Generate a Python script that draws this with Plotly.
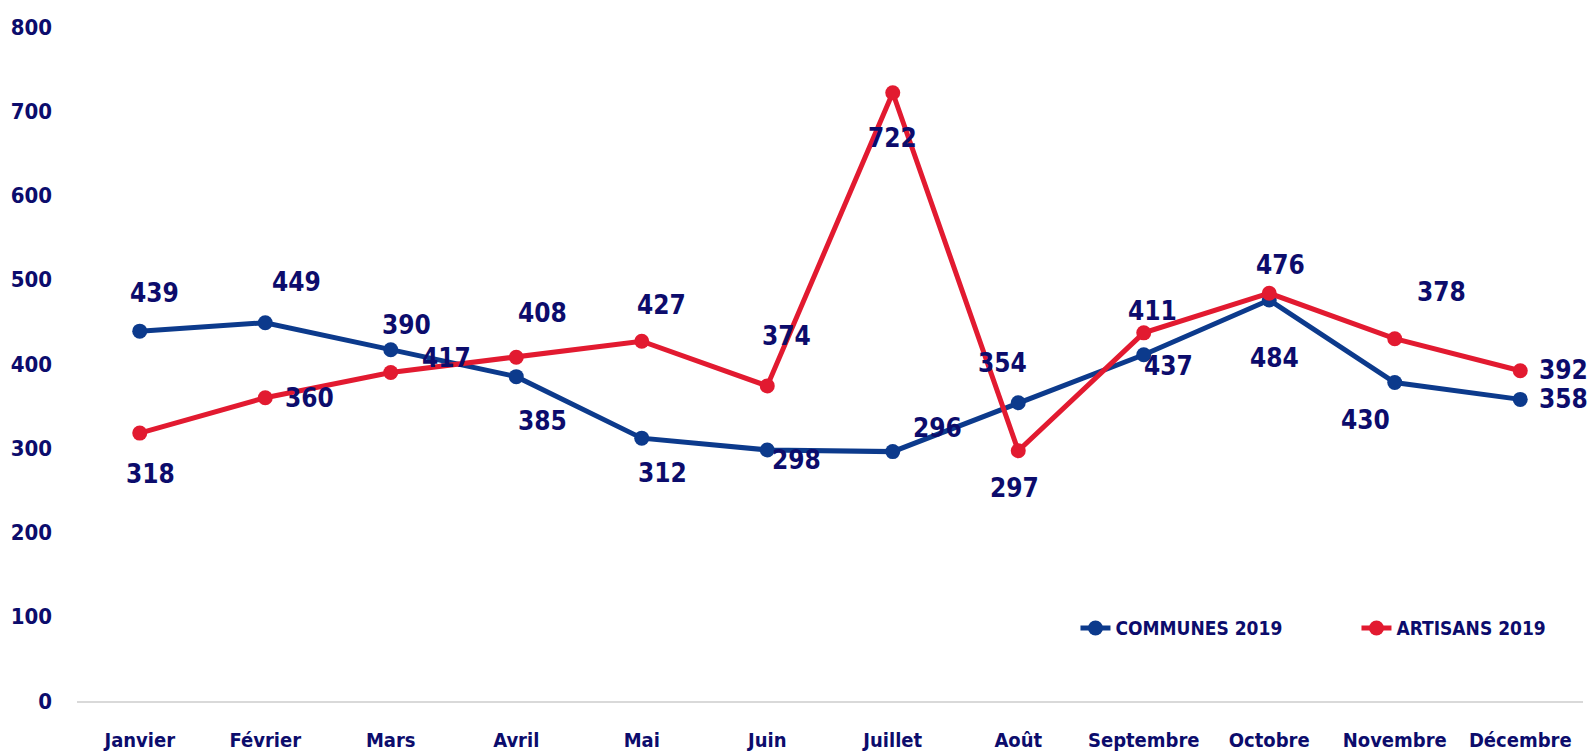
import plotly.graph_objects as go

# Monthly counts, 2019
months = ["Janvier", "Février", "Mars", "Avril", "Mai", "Juin", "Juillet",
          "Août", "Septembre", "Octobre", "Novembre", "Décembre"]
communes_2019 = [439, 449, 417, 385, 312, 298, 296, 354, 411, 476, 378, 358]
artisans_2019 = [318, 360, 390, 408, 427, 374, 722, 297, 437, 484, 430, 392]

# Pixel offsets of each value label relative to its point (dx right, dy down)
communes_label_dx = [15, 31, 56, 26, 21, 29, 45, -16, 9, 11, 47, 43]
communes_label_dy = [-38, -41, 8, 44, 35, 10, -24, -40, -44, -35, -91, 0]
artisans_label_dx = [11, 44, 16, 26, 20, 19, 0, -4, 25, 5, -29, 43]
artisans_label_dy = [41, 0, -47, -44, -36, -50, 45, 37, 33, 65, 81, -1]

BLUE = "#0c3a8c"
RED = "#e21a30"
NAVY = "#0c0c6c"
FONT = "DejaVu Sans Condensed, Liberation Sans Narrow, sans-serif"

fig = go.Figure()
fig.add_trace(go.Scatter(
    x=months, y=communes_2019, name="COMMUNES 2019", mode="lines+markers",
    line=dict(color=BLUE, width=5), marker=dict(color=BLUE, size=15),
))
fig.add_trace(go.Scatter(
    x=months, y=artisans_2019, name="ARTISANS 2019", mode="lines+markers",
    line=dict(color=RED, width=5), marker=dict(color=RED, size=15),
))

annotations = []
for vals, dxs, dys in ((communes_2019, communes_label_dx, communes_label_dy),
                       (artisans_2019, artisans_label_dx, artisans_label_dy)):
    for m, v, dx, dy in zip(months, vals, dxs, dys):
        annotations.append(dict(
            x=m, y=v, xref="x", yref="y", text=str(v), showarrow=False,
            xanchor="center", yanchor="middle", xshift=dx, yshift=-dy,
            font=dict(family=FONT, size=26, color=NAVY, weight="bold"),
        ))

fig.update_layout(
    width=1589, height=755,
    margin=dict(l=77, r=6, t=27, b=54, autoexpand=False),
    paper_bgcolor="white", plot_bgcolor="white",
    font=dict(family=FONT, color=NAVY, weight="bold"),
    showlegend=True,
    legend=dict(
        orientation="h", x=0.663, xanchor="left", y=0.108, yanchor="middle",
        font=dict(family=FONT, size=19, color=NAVY, weight="bold"),
        bgcolor="rgba(0,0,0,0)", entrywidth=236, entrywidthmode="pixels",
    ),
    annotations=annotations,
    xaxis=dict(
        type="category", range=[-0.5, 11.5], showgrid=False, zeroline=False,
        showline=True, linecolor="#d9d9d9", linewidth=2, ticks="",
        tickangle=0, automargin=False,
        tickfont=dict(family=FONT, size=20, color=NAVY, weight="bold"),
        ticklabelstandoff=20,
    ),
    yaxis=dict(
        range=[0, 800], dtick=100, showgrid=False, zeroline=False,
        showline=False, ticks="", automargin=False,
        tickfont=dict(family=FONT, size=22, color=NAVY, weight="bold"),
        ticklabelstandoff=24,
    ),
)

fig.write_html("out.html")
